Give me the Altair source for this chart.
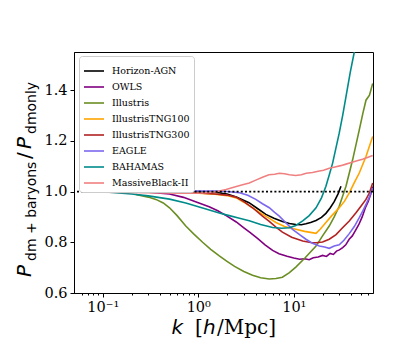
import altair as alt
import pandas as pd

sims = ["Horizon-AGN", "OWLS", "Illustris", "IllustrisTNG100", "IllustrisTNG300",
        "EAGLE", "BAHAMAS", "MassiveBlack-II"]
colors = ["#000000", "#800080", "#6b8e23", "#ffa500", "#b22222",
          "#7b68ee", "#008b8b", "#f08080"]

hagn_k = [0.078, 0.15, 0.3, 0.6, 1.0, 1.5, 2.0, 2.5, 3.4, 4.2, 5.1, 6.2, 7.6, 9.0, 10.5,
          12.0, 13.4, 15.0, 17.1, 19.5, 21.7, 24.0, 26.5, 29.0, 31.2]
hagn_v = [1.005, 1.005, 1.004, 1.003, 1.0, 0.997, 0.99, 0.978, 0.956, 0.932, 0.91, 0.895,
          0.882, 0.874, 0.87, 0.869, 0.873, 0.878, 0.886, 0.898, 0.914, 0.935, 0.96, 0.99, 1.021]

owls_k = [0.06, 0.1, 0.2, 0.3, 0.5, 0.7, 1.0, 1.3, 1.6, 2.0, 2.5, 3.0, 3.5, 4.2, 5.0, 6.0,
          7.0, 8.5, 10.0, 11.5, 13.0, 14.5, 16.0, 18.0, 20.0, 22.0, 24.0, 26.0, 28.0, 30.0,
          32.5, 35.0, 38.0, 41.0, 44.0, 48.0, 52.0, 56.0, 60.0, 64.0, 67.0]
owls_v = [1.0, 1.0, 0.999, 0.997, 0.99, 0.977, 0.956, 0.94, 0.924, 0.903, 0.88, 0.857, 0.838,
          0.814, 0.79, 0.768, 0.755, 0.745, 0.738, 0.733, 0.735, 0.731, 0.739, 0.742, 0.748,
          0.744, 0.756, 0.752, 0.765, 0.77, 0.779, 0.79, 0.812, 0.825, 0.845, 0.87, 0.9, 0.935,
          0.96, 0.99, 1.02]

ill_k = [0.222, 0.3, 0.36, 0.43, 0.5, 0.6, 0.74, 0.9, 1.11, 1.35, 1.66, 2.0, 2.4, 3.0, 3.7,
         4.5, 5.54, 6.5, 7.6, 9.0, 10.5, 13.0, 17.1, 20.0, 23.5, 26.5, 29.9, 35.2, 41.3, 48.5,
         53.0, 57.0, 62.0, 67.0]
ill_v = [0.988, 0.978, 0.969, 0.955, 0.936, 0.905, 0.864, 0.832, 0.8, 0.772, 0.746, 0.725,
         0.705, 0.685, 0.67, 0.66, 0.655, 0.657, 0.662, 0.68, 0.702, 0.737, 0.785, 0.825, 0.864,
         0.9, 0.942, 1.021, 1.125, 1.243, 1.31, 1.36, 1.38, 1.426]

tng100_k = [0.06, 0.2, 0.5, 1.0, 1.5, 2.0, 2.5, 3.0, 3.7, 4.5, 5.5, 6.5, 8.0, 10.5, 13.0,
            15.5, 17.1, 19.0, 21.7, 25.0, 29.9, 34.0, 38.1, 43.0, 48.5, 57.0, 67.0]
tng100_v = [1.0, 0.999, 0.997, 0.993, 0.989, 0.984, 0.975, 0.958, 0.936, 0.915, 0.895, 0.878,
            0.862, 0.851, 0.843, 0.838, 0.835, 0.852, 0.878, 0.905, 0.936, 0.962, 0.995, 1.035,
            1.073, 1.138, 1.217]

tng300_k = [0.06, 0.2, 0.5, 1.0, 1.5, 2.0, 2.48, 3.0, 3.7, 4.7, 5.54, 6.5, 7.6, 9.5, 12.4,
            15.0, 17.1, 20.0, 23.5, 27.7, 32.4, 38.1, 44.8, 50.0, 57.0, 62.0, 67.0]
tng300_v = [1.0, 0.999, 0.997, 0.994, 0.99, 0.986, 0.978, 0.96, 0.936, 0.903, 0.882, 0.86,
            0.84, 0.82, 0.805, 0.799, 0.798, 0.801, 0.812, 0.83, 0.857, 0.884, 0.916, 0.94,
            0.969, 0.995, 1.034]

eagle_k = [0.06, 0.2, 0.5, 1.0, 1.5, 2.0, 2.7, 3.3, 4.0, 4.7, 5.54, 6.3, 7.05, 8.3, 9.7,
           11.5, 13.4, 15.5, 18.5, 21.0, 23.5, 26.5, 29.9, 33.5, 38.1, 43.0, 48.5, 53.0, 57.0,
           62.0, 67.0]
eagle_v = [1.0, 1.0, 1.001, 1.002, 1.002, 1.0, 0.995, 0.985, 0.969, 0.952, 0.936, 0.918,
           0.903, 0.876, 0.851, 0.83, 0.812, 0.797, 0.785, 0.781, 0.776, 0.785, 0.79, 0.808,
           0.834, 0.862, 0.897, 0.925, 0.949, 0.98, 1.014]

bah_k = [0.06, 0.1, 0.2, 0.3, 0.5, 0.74, 1.11, 1.66, 2.11, 2.7, 3.42, 4.5, 6.0, 7.5, 8.97,
         10.5, 12.4, 14.5, 17.1, 19.5, 21.7, 23.5, 25.5, 27.5, 29.9, 32.5, 35.2, 39.0, 43.0]
bah_v = [1.0, 0.999, 0.99, 0.983, 0.97, 0.955, 0.935, 0.915, 0.905, 0.895, 0.885, 0.87, 0.858,
         0.855, 0.857, 0.866, 0.884, 0.905, 0.936, 0.975, 1.021, 1.065, 1.112, 1.168, 1.23,
         1.3, 1.374, 1.47, 1.55]

mb2_k = [0.06, 0.1, 0.2, 0.3, 0.5, 0.8, 1.11, 1.5, 1.95, 2.4, 2.91, 3.42, 4.0, 4.7, 5.5, 6.3,
         7.05, 8.0, 9.0, 10.5, 12.0, 13.5, 15.7, 18.0, 20.5, 23.5, 27.0, 31.0, 35.2, 40.0,
         46.0, 52.5, 59.0, 67.0]
mb2_v = [0.998, 0.997, 0.996, 0.995, 0.994, 0.993, 0.994, 0.998, 1.008, 1.018, 1.027, 1.034,
         1.045, 1.056, 1.066, 1.068, 1.072, 1.07, 1.066, 1.063, 1.066, 1.072, 1.075, 1.08,
         1.084, 1.092, 1.097, 1.102, 1.108, 1.114, 1.121, 1.127, 1.134, 1.142]

series_k = [hagn_k, owls_k, ill_k, tng100_k, tng300_k, eagle_k, bah_k, mb2_k]
series_v = [hagn_v, owls_v, ill_v, tng100_v, tng300_v, eagle_v, bah_v, mb2_v]

major_ticks = [0.1, 1, 10]
minor_ticks = [0.06, 0.07, 0.08, 0.09, 0.2, 0.3, 0.4, 0.5, 0.6, 0.7, 0.8, 0.9,
               2, 3, 4, 5, 6, 7, 8, 9, 20, 30, 40, 50, 60]
y_ticks = [0.6, 0.8, 1.0, 1.2, 1.4]
x_domain = [0.05, 67.5]
y_domain = [0.6, 1.55]

rows = []
for idx, (name, ks, vs) in enumerate(zip(sims, series_k, series_v)):
    for i, (k, v) in enumerate(zip(ks, vs)):
        rows.append({"sim": name, "k": k, "v": v, "i": i, "z": idx})
df = pd.DataFrame(rows)

SERIF = "DejaVu Serif"
SANS = "DejaVu Sans"

xscale = alt.Scale(type="log", domain=x_domain, nice=False)
yscale = alt.Scale(domain=y_domain, nice=False, zero=False)

lines = alt.Chart(df).mark_line(clip=True, strokeWidth=1.6).encode(
    x=alt.X("k:Q", scale=xscale, axis=alt.Axis(
        values=major_ticks, title=None, tickSize=4, labelFont=SERIF, labelFontSize=14.5,
        labelPadding=3, grid=False,
        labelExpr="datum.value < 0.5 ? '10⁻¹' : (datum.value < 5 ? '10⁰' : '10¹')")),
    y=alt.Y("v:Q", scale=yscale, axis=alt.Axis(
        values=y_ticks, format=".1f", title=None, tickSize=4, labelFont=SERIF,
        labelFontSize=14.5, labelPadding=3, grid=False)),
    color=alt.Color("sim:N", sort=sims, scale=alt.Scale(domain=sims, range=colors),
                    legend=alt.Legend(
                        title=None, orient="none", legendX=5, legendY=4,
                        symbolType="stroke", symbolSize=400, symbolStrokeWidth=1.6,
                        labelFont=SERIF, labelFontSize=9.5, labelOffset=7,
                        rowPadding=-6, padding=4, fillColor="white",
                        strokeColor="#cccccc", cornerRadius=3)),
    detail="z:O",
    order="i:Q",
)

minor = alt.Chart(pd.DataFrame({"k": minor_ticks})).mark_point(opacity=0).encode(
    x=alt.X("k:Q", scale=xscale, axis=alt.Axis(
        values=minor_ticks, labels=False, title=None, tickSize=2, grid=False,
        orient="bottom", domain=False)),
)

ref = alt.Chart(pd.DataFrame({"v": [1.0]})).mark_rule(
    color="black", strokeDash=[2, 2.2], strokeWidth=1.8).encode(
    y=alt.Y("v:Q", scale=yscale))


def txt(s, x, y, font, size, style="normal", angle=0):
    return alt.Chart(pd.DataFrame({"t": [s]})).mark_text(
        font=font, fontSize=size, fontStyle=style, align="left",
        baseline="alphabetic", angle=angle, color="black").encode(
        text="t:N", x=alt.value(x), y=alt.value(y))


titles = [
    txt("k", 97.5, 282, SANS, 20, "italic"),
    txt("[", 121, 282, SERIF, 20),
    txt("h", 129, 282, SANS, 20, "italic"),
    txt("/Mpc]", 143, 282, SERIF, 20),
    txt("P", -43, 225, SANS, 20, "italic", 270),
    txt("dm + baryons", -38, 209, SANS, 14, "normal", 270),
    txt("/", -43, 107, SANS, 20, "normal", 270),
    txt("P", -43, 97, SANS, 20, "italic", 270),
    txt("dmonly", -38, 82, SANS, 14, "normal", 270),
]

chart = alt.layer(lines, minor, ref, *titles).resolve_axis(x="independent").properties(
    width=299, height=241, autosize="none",
    padding={"left": 66, "top": 44, "right": 20, "bottom": 45},
).configure_view(stroke="black", strokeWidth=1).configure_axis(
    domainColor="black", tickColor="black", labelColor="black", domainWidth=1,
    tickWidth=1)

chart.save("out.html", embed_options={"renderer": "svg", "actions": False})
